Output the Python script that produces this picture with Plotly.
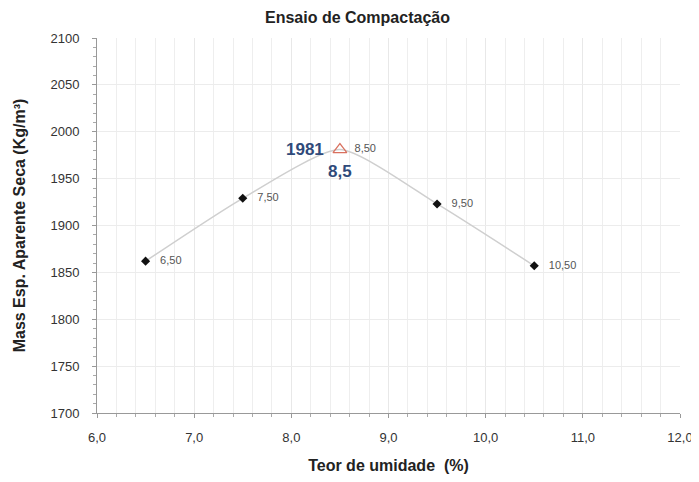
import plotly.graph_objects as go

umidade = [6.5, 7.5, 9.5, 10.5]
massa = [1862, 1929, 1923, 1857]
pt_labels = ["6,50", "7,50", "9,50", "10,50"]

pico_x = [8.5]
pico_y = [1981]
pico_label = ["8,50"]

curva_x = [6.5, 7.5, 8.5, 9.5, 10.5]
curva_y = [1862, 1929, 1981, 1923, 1857]

x_ticks = [6.0, 7.0, 8.0, 9.0, 10.0, 11.0, 12.0]
x_ticktext = ["6,0", "7,0", "8,0", "9,0", "10,0", "11,0", "12,0"]

fig = go.Figure()
fig.add_trace(go.Scatter(x=curva_x, y=curva_y, mode="lines", line=dict(color="#cfcfcf", width=1.5, shape="spline", smoothing=0.6), hoverinfo="skip", showlegend=False))
fig.add_trace(go.Scatter(x=umidade, y=massa, mode="markers+text", text=["   " + t for t in pt_labels], textposition="middle right",
                         textfont=dict(family="Liberation Sans", size=11, color="#555"),
                         marker=dict(symbol="diamond", size=7, color="#111"), showlegend=False))
fig.add_trace(go.Scatter(x=pico_x, y=pico_y, mode="markers+text", text=["  " + t for t in pico_label], textposition="middle right",
                         textfont=dict(family="Liberation Sans", size=11, color="#555"),
                         marker=dict(symbol="triangle-up-open", size=12, color="#d9705e", line=dict(width=1.2)), showlegend=False))

fig.add_annotation(x=pico_x[0], y=pico_y[0], text="<b>%d</b>" % pico_y[0], showarrow=False, xanchor="right", xshift=-14,
                   font=dict(family="Liberation Sans", size=17, color="#2f4a7a"))
fig.add_annotation(x=pico_x[0], y=pico_y[0], text="<b>8,5</b>", showarrow=False, yshift=-22,
                   font=dict(family="Liberation Sans", size=17, color="#2f4a7a"))

fig.update_layout(
    width=699, height=482,
    margin=dict(l=89, r=27, t=30, b=77),
    paper_bgcolor="white", plot_bgcolor="white",
    title=dict(text="<b>Ensaio de Compactação</b>", x=0.5, xanchor="center", y=0.981, yanchor="middle",
               font=dict(family="Liberation Sans", size=16, color="#222")),
    font=dict(family="Liberation Sans", size=13, color="#333"),
    xaxis=dict(range=[6.0, 12.0], tickvals=x_ticks, ticktext=x_ticktext,
               showline=True, linecolor="#999", linewidth=1, ticks="outside", ticklen=4, tickcolor="#999",
               showgrid=True, gridcolor="#e8e8e8", gridwidth=1, zeroline=False,
               minor=dict(dtick=0.2, ticks="outside", ticklen=3, tickcolor="#aaa", showgrid=True, gridcolor="#eeeeee"),
               tickfont=dict(size=13, color="#333"), ticklabelstandoff=8,
               title=dict(text="<b>Teor de umidade  (%)</b>", font=dict(size=16, color="#222"), standoff=16)),
    yaxis=dict(range=[1700, 2100], dtick=50, showline=True, linecolor="#999", linewidth=1,
               ticks="outside", ticklen=4, tickcolor="#999",
               showgrid=True, gridcolor="#ececec", zeroline=False,
               minor=dict(dtick=10, ticks="outside", ticklen=3, tickcolor="#aaa", showgrid=False),
               tickfont=dict(size=13, color="#333"), ticklabelstandoff=10,
               title=dict(text="<b>Mass Esp. Aparente Seca (Kg/m³)</b>", font=dict(size=16, color="#222"), standoff=20)),
)

fig.write_html("out.html")
